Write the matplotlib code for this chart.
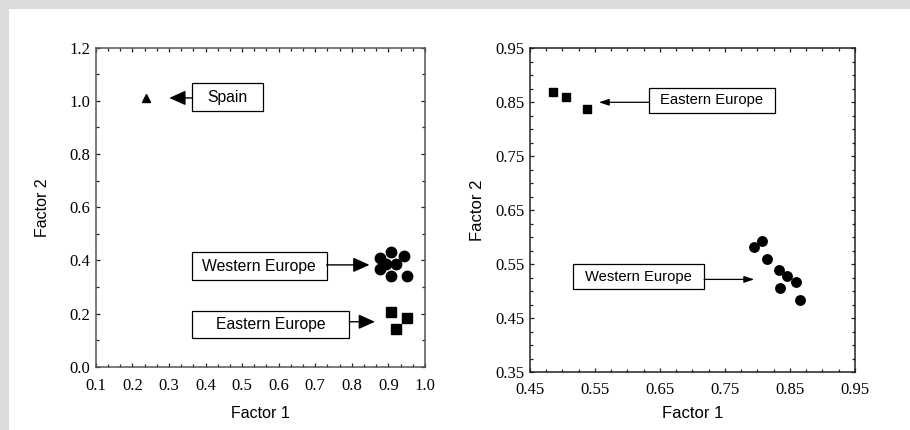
import matplotlib
matplotlib.use("Agg")
import matplotlib.pyplot as plt
from matplotlib.patches import Rectangle
from matplotlib.ticker import AutoMinorLocator

# --- data ---
# left panel
spain_f1 = [0.237]
spain_f2 = [1.010]
west_f1 = [0.877, 0.906, 0.943, 0.893, 0.921, 0.877, 0.906, 0.950]
west_f2 = [0.408, 0.431, 0.418, 0.387, 0.387, 0.366, 0.342, 0.342]
east_f1 = [0.906, 0.950, 0.921]
east_f2 = [0.207, 0.184, 0.143]
# right panel
east2_f1 = [0.485, 0.505, 0.537]
east2_f2 = [0.869, 0.859, 0.837]
west2_f1 = [0.794, 0.807, 0.814, 0.833, 0.846, 0.860, 0.834, 0.866]
west2_f2 = [0.582, 0.593, 0.560, 0.539, 0.528, 0.518, 0.507, 0.484]

left_xticks = [0.1, 0.2, 0.3, 0.4, 0.5, 0.6, 0.7, 0.8, 0.9, 1.0]
left_yticks = [0.0, 0.2, 0.4, 0.6, 0.8, 1.0, 1.2]
right_xticks = [0.45, 0.55, 0.65, 0.75, 0.85, 0.95]
right_yticks = [0.35, 0.45, 0.55, 0.65, 0.75, 0.85, 0.95]

SANS = "Liberation Sans"
SERIF = "Liberation Serif"

fig = plt.figure(figsize=(9.1, 4.3), dpi=100, facecolor="#dcdcdc")
fig.add_artist(Rectangle((9 / 910, 0), 1, 1 - 9 / 430, transform=fig.transFigure,
                         facecolor="white", edgecolor="none", zorder=-10))


def style_axes(ax, xt, yt, xminor, yminor, fmt_x, fmt_y, spine_col, xpad):
    ax.set_xticks(xt)
    ax.set_yticks(yt)
    ax.set_xticklabels([fmt_x.format(v) for v in xt], family=SERIF, fontsize=12)
    ax.set_yticklabels([fmt_y.format(v) for v in yt], family=SERIF, fontsize=12)
    ax.xaxis.set_minor_locator(AutoMinorLocator(xminor))
    ax.yaxis.set_minor_locator(AutoMinorLocator(yminor))
    ax.tick_params(which="both", direction="in", top=True, right=True,
                   color="#222222", width=0.9)
    ax.tick_params(which="major", length=3)
    ax.tick_params(axis="x", which="major", pad=xpad)
    ax.tick_params(axis="y", which="major", pad=4)
    ax.tick_params(which="minor", length=2)
    for s in ax.spines.values():
        s.set_color(spine_col)
        s.set_linewidth(1.1)


def box(ax, x0, y0, x1, y1, text, fs):
    ax.add_patch(Rectangle((x0, y0), x1 - x0, y1 - y0, facecolor="white",
                           edgecolor="black", lw=0.9, zorder=3))
    ax.text((x0 + x1) / 2, (y0 + y1) / 2, text, ha="center", va="center",
            family=SANS, fontsize=fs, zorder=4)


def arrow(ax, start, tip, hl, hw, lw):
    ax.annotate("", xy=tip, xytext=start,
                arrowprops=dict(arrowstyle=f"-|>,head_length={hl},head_width={hw}",
                                color="black", lw=lw, shrinkA=0, shrinkB=0,
                                mutation_scale=10))


# ---- left panel ----
ax1 = fig.add_axes([0.1052, 0.1472, 0.3619, 0.7419])
ax1.set_xlim(0.1, 1.0)
ax1.set_ylim(0.0, 1.2)
ax1.plot(spain_f1, spain_f2, "^", color="black", ms=5.5)
ax1.plot(west_f1, west_f2, "o", color="black", ms=7.5)
ax1.plot(east_f1, east_f2, "s", color="black", ms=7)
style_axes(ax1, left_xticks, left_yticks, 3, 2, "{:.1f}", "{:.1f}", "#555555", 8)
ax1.set_xlabel("Factor 1", family=SANS, fontsize=11.5, labelpad=9)
ax1.set_ylabel("Factor 2", family=SANS, fontsize=11.5, labelpad=14)

box(ax1, 0.362, 0.962, 0.558, 1.066, "Spain", 11.3)
arrow(ax1, (0.362, 1.011), (0.301, 1.011), 1.0, 0.45, 1.0)
box(ax1, 0.362, 0.326, 0.731, 0.430, "Western Europe", 11.3)
arrow(ax1, (0.731, 0.383), (0.848, 0.383), 1.0, 0.45, 1.0)
box(ax1, 0.364, 0.109, 0.793, 0.211, "Eastern Europe", 11.3)
arrow(ax1, (0.793, 0.169), (0.863, 0.169), 1.0, 0.45, 1.0)

# ---- right panel ----
ax2 = fig.add_axes([0.5824, 0.1342, 0.3571, 0.7535])
ax2.set_xlim(0.45, 0.95)
ax2.set_ylim(0.35, 0.95)
ax2.plot(east2_f1, east2_f2, "s", color="black", ms=6.3)
ax2.plot(west2_f1, west2_f2, "o", color="black", ms=6.8)
style_axes(ax2, right_xticks, right_yticks, 4, 4, "{:.2f}", "{:.2f}", "#222222", 7)
ax2.set_xlabel("Factor 1", family=SANS, fontsize=12, labelpad=6)
ax2.set_ylabel("Factor 2", family=SANS, fontsize=12, labelpad=7)

box(ax2, 0.633, 0.831, 0.827, 0.877, "Eastern Europe", 10.6)
arrow(ax2, (0.633, 0.850), (0.556, 0.850), 0.6, 0.2, 0.9)
box(ax2, 0.516, 0.504, 0.718, 0.550, "Western Europe", 10.6)
arrow(ax2, (0.718, 0.522), (0.795, 0.522), 0.6, 0.2, 0.9)

fig.savefig("out.png", dpi=100, facecolor=fig.get_facecolor())
